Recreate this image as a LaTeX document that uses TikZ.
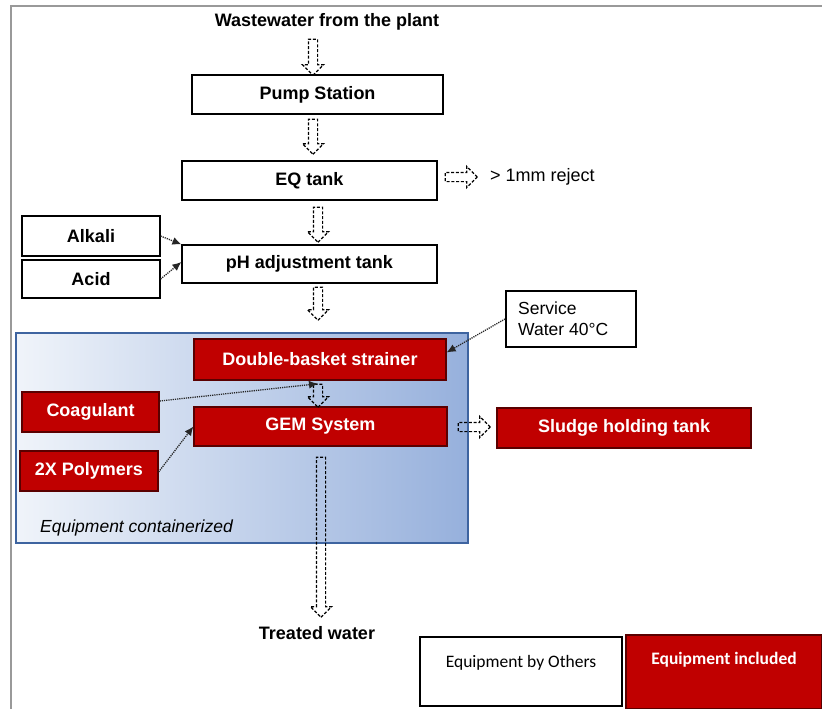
\documentclass[tikz,border=0pt]{standalone}
\usepackage{fontspec}
\setmainfont{Liberation Sans}
\newfontfamily\legendfont{Carlito}
\usetikzlibrary{shapes.arrows,calc,arrows.meta}
\definecolor{redbox}{RGB}{192,0,0}
\definecolor{redline}{RGB}{90,0,0}
\definecolor{contline}{RGB}{62,100,160}
\definecolor{contright}{RGB}{150,176,220}
\definecolor{contleft}{RGB}{240,244,250}
\begin{document}
\begin{tikzpicture}[x=1pt,y=-1pt,
  every node/.style={font=\fontsize{18}{20}\selectfont},
  whitebox/.style={draw=black, line width=1.2pt, fill=white, inner sep=0pt, font=\fontsize{18}{20}\selectfont\bfseries},
  redbox/.style={draw=redline, line width=1.2pt, fill=redbox, text=white, inner sep=0pt, font=\fontsize{18}{20}\selectfont\bfseries},
  barrow/.style={single arrow, draw=black, line width=1.2pt, dash pattern=on 3pt off 1.8pt,
    inner xsep=0pt, inner ysep=4pt, single arrow head extend=6pt, single arrow tip angle=90},
  feed/.style={draw=black!85, line width=1.3pt, dash pattern=on 1.2pt off 1pt, -{Latex[length=9pt,width=8pt]}},
  plain/.style={inner sep=0pt}
]
\useasboundingbox (0,0) rectangle (822,709);
\fill[white] (0,0) rectangle (822,709);
% page border
\draw[black!40, line width=1.5pt] (11,709) -- (11,6) -- (822,6);

% container
\node[draw=contline, line width=1.6pt, left color=contleft, right color=contright, minimum width=452, minimum height=210, inner sep=0pt] (cont) at (242,438) {};
\node[plain, anchor=west, font=\fontsize{17.5}{20}\selectfont\itshape] (conttxt) at (40,528) {Equipment containerized};

% top text
\node[plain, font=\fontsize{18}{20}\selectfont\bfseries] (ww) at (327,22) {Wastewater from the plant};

% boxes
\node[whitebox, minimum width=251, minimum height=39] (pump) at (317.5,94.5) {Pump Station};
\node[whitebox, minimum width=255, minimum height=39] (eq) at (309.5,180.5) {EQ tank};
\node[plain, anchor=west] (reject) at (490,177) {> 1mm reject};
\node[whitebox, minimum width=138, minimum height=40] (alkali) at (91,236) {Alkali};
\node[whitebox, minimum width=138, minimum height=38] (acid) at (91,279) {Acid};
\node[whitebox, minimum width=255, minimum height=38] (ph) at (309.5,264) {pH adjustment tank};
\node[draw=black, line width=2pt, fill=white, minimum width=130, minimum height=56, inner sep=0pt] (service) at (571,319) {};
\node[plain, anchor=west, align=left, font=\fontsize{17.5}{21}\selectfont] (servicetxt) at (518,319) {Service\\Water 40°C};

\node[redbox, minimum width=252, minimum height=41] (strainer) at (320,359.5) {Double-basket strainer};
\node[redbox, minimum width=137, minimum height=40] (coag) at (90.5,412) {Coagulant};
\node[redbox, minimum width=253, minimum height=39] (gem) at (320.5,426.5) {GEM System};
\node[redbox, minimum width=254, minimum height=40] (sludge) at (624,428) {Sludge holding tank};
\node[redbox, minimum width=138, minimum height=40] (poly) at (89,471) {2X Polymers};

\node[plain, font=\fontsize{18}{20}\selectfont\bfseries] (treated) at (317,633) {Treated water};

% block arrows
\node[barrow, minimum height=36, rotate=-90] (a1) at (313,55) {};
\node[barrow, minimum height=35, rotate=-90] (a2) at (313,134.5) {};
\node[barrow, minimum height=32, rotate=0] (a5) at (459,177) {};
\node[barrow, minimum height=35, rotate=-90] (a3) at (318,222.5) {};
\node[barrow, minimum height=33, rotate=-90] (a4) at (318,301.5) {};
\node[barrow, minimum height=23, rotate=-90] (a6) at (318,393.5) {};
\node[barrow, minimum height=32, rotate=0] (a7) at (472,427) {};
\node[barrow, minimum height=160, rotate=-90] (a8) at (321,535) {};

% dotted feeds
\draw[feed] (alkali.east) -- (ph.north west);
\draw[feed] (acid.east) -- ($(ph.west)+(0,-2)$);
\draw[feed] (service.west) -- ($(strainer.east)+(0,-7)$);
\draw[feed] ($(coag.east)+(0,-11)$) -- (a6.tail);
\draw[feed] ($(poly.east)+(0,1)$) -- (gem.west);

% legend
\node[draw=black, line width=1.2pt, fill=white, minimum width=202, minimum height=69, inner sep=0pt] (others) at (521,671.5) {};
\node[plain, font=\legendfont\fontsize{17.5}{20}\selectfont] (otherstxt) at (521,663) {Equipment by Others};
\node[draw=redline, line width=1.2pt, fill=redbox, minimum width=196, minimum height=74, inner sep=0pt] (incl) at (724,672) {};
\node[plain, text=white, font=\legendfont\fontsize{17.5}{20}\selectfont\bfseries] (incltxt) at (724,660) {Equipment included};
\end{tikzpicture}
\end{document}
